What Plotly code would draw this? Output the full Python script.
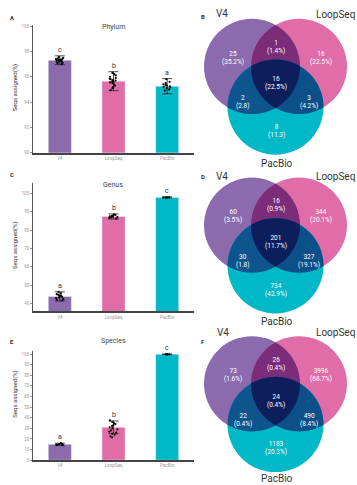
import numpy as np
import plotly.graph_objects as go

W, H = 357, 485

categories = ["V4", "LoopSeq", "PacBio"]
bar_colors = ["#8B6BAE", "#E06DA8", "#00B8C6"]

# Panel A - Phylum
phylum_mean = [97.3, 95.65, 95.25]
phylum_err = [0.35, 0.75, 0.6]
phylum_letters = ["c", "b", "a"]
phylum_pts_v4 = [97.55, 97.5, 97.45, 97.4, 97.4, 97.35, 97.3, 97.3, 97.25, 97.2, 97.2, 97.15, 97.1, 97.05, 97.0, 97.35, 97.28]
phylum_pts_loop = [96.3, 96.2, 96.1, 96.0, 95.9, 95.85, 95.8, 95.75, 95.7, 95.65, 95.6, 95.55, 95.5, 95.4, 95.3, 95.2, 95.1, 94.95]
phylum_pts_pac = [95.8, 95.6, 95.5, 95.4, 95.35, 95.3, 95.25, 95.2, 95.15, 95.1, 95.0, 94.9]

# Panel C - Genus
genus_mean = [43.8, 87.4, 97.8]
genus_err = [2.5, 1.4, 0.3]
genus_letters = ["a", "b", "c"]
genus_pts_v4 = [46.2, 45.5, 45.0, 44.6, 44.2, 43.9, 43.5, 43.2, 42.8, 42.3, 41.8, 41.5]
genus_pts_loop = [88.6, 88.2, 88.0, 87.7, 87.5, 87.3, 87.1, 86.9, 86.6, 86.3]
genus_pts_pac = [97.9, 97.8, 97.8, 97.7, 97.7]

# Panel E - Species
species_mean = [15.0, 31.0, 99.8]
species_err = [1.0, 6.0, 0.3]
species_letters = ["a", "b", "c"]
species_pts_v4 = [16.0, 15.5, 15.2, 15.0, 14.8, 14.5, 14.2, 14.0]
species_pts_loop = [37.5, 36, 35, 34, 33, 32, 31, 30, 29, 28, 27, 26, 25, 24, 22.5, 21.5]
species_pts_pac = [99.9, 99.8, 99.8, 99.7]

bar_titles = ["Phylum", "Genus", "Species"]

# Venn data (order: V4 only, LoopSeq only, PacBio only, V4&Loop, V4&Pac, Loop&Pac, all)
venn_B_counts = ["25", "16", "8", "1", "2", "3", "16"]
venn_B_pcts = ["(35.2%)", "(22.5%)", "(11.3)", "(1.4%)", "(2.8)", "(4.2%)", "(22.5%)"]
venn_D_counts = ["60", "344", "734", "16", "30", "327", "201"]
venn_D_pcts = ["(3.5%)", "(20.1%)", "(42.9%)", "(0.9%)", "(1.8)", "(19.1%)", "(11.7%)"]
venn_F_counts = ["73", "3996", "1183", "26", "22", "490", "24"]
venn_F_pcts = ["(1.6%)", "(68.7%)", "(20.3%)", "(0.4%)", "(0.4%)", "(8.4%)", "(0.4%)"]
venn_sets = ["V4", "LoopSeq", "PacBio"]

fig = go.Figure()

def py2frac(p):
    return 1 - p / H

bar_panels = [
    dict(mean=phylum_mean, err=phylum_err, letters=phylum_letters,
         pts=[phylum_pts_v4, phylum_pts_loop, phylum_pts_pac],
         top=24, bottom=153, rng=[90, 100.1], dtick=2),
    dict(mean=genus_mean, err=genus_err, letters=genus_letters,
         pts=[genus_pts_v4, genus_pts_loop, genus_pts_pac],
         top=184, bottom=313, rng=[35.6, 105.4], dtick=10),
    dict(mean=species_mean, err=species_err, letters=species_letters,
         pts=[species_pts_v4, species_pts_loop, species_pts_pac],
         top=353, bottom=463, rng=[0, 102.8], dtick=10),
]

annotations = []
for k, p in enumerate(bar_panels):
    ax = "" if k == 0 else str(k + 1)
    xr, yr = "x" + ax, "y" + ax
    fig.add_trace(go.Bar(
        x=categories, y=p["mean"], marker_color=bar_colors, width=0.43,
        error_y=dict(type="data", array=p["err"], color="#222", thickness=0.8, width=5),
        xaxis=xr, yaxis=yr, showlegend=False, hoverinfo="skip"))
    xs, ys = [], []
    for c, vals in zip(categories, p["pts"]):
        xs += [c] * len(vals)
        ys += vals
    fig.add_trace(go.Box(
        x=xs, y=ys, boxpoints="all", jitter=0.55, pointpos=0, width=0.3,
        fillcolor="rgba(0,0,0,0)", line=dict(color="rgba(0,0,0,0)", width=0),
        marker=dict(color="black", size=2.2), xaxis=xr, yaxis=yr,
        showlegend=False, hoverinfo="skip"))
    dom_y = [py2frac(p["bottom"]), py2frac(p["top"])]
    fig.update_layout(**{
        "xaxis" + ax: dict(domain=[33 / W, 194 / W], showline=True, linecolor="#444",
                           linewidth=1.8, ticks="", showgrid=False, zeroline=False,
                           tickfont=dict(size=4.5, color="#999", family="Roboto"),
                           anchor=yr, fixedrange=True),
        "yaxis" + ax: dict(domain=dom_y, range=p["rng"], dtick=p["dtick"], showline=True,
                           linecolor="#555", linewidth=0.8, ticks="outside", ticklen=2,
                           tickcolor="#999", tickwidth=0.6, showgrid=False, zeroline=False,
                           tickfont=dict(size=4.5, color="#999", family="Roboto"),
                           anchor=xr, fixedrange=True),
    })
    for c, m, e, l in zip(categories, p["mean"], p["err"], p["letters"]):
        annotations.append(dict(x=c, y=m + e, xref=xr, yref=yr, text=l, showarrow=False,
                                yanchor="bottom", yshift=0,
                                font=dict(size=7, color="#333", family="Roboto")))

# overlay pixel axis
fig.update_layout(
    xaxis4=dict(domain=[0, 1], range=[0, W], visible=False, fixedrange=True, anchor="y4"),
    yaxis4=dict(domain=[0, 1], range=[H, 0], visible=False, fixedrange=True, anchor="x4"),
)
fig.add_trace(go.Scatter(x=[0], y=[0], xaxis="x4", yaxis="y4", mode="markers",
                         marker=dict(opacity=0), showlegend=False, hoverinfo="skip"))

# Bar titles, y titles, panel letters
title_pos = [(113, 26), (113, 186), (113, 343)]
ytitle_pos = [(15, 88), (15, 247), (15, 397)]
for t, (tx, ty), (yx, yy) in zip(bar_titles, title_pos, ytitle_pos):
    annotations.append(dict(x=tx, y=ty, xref="x4", yref="y4", text=t, showarrow=False,
                            font=dict(size=7, color="#444", family="Roboto")))
    annotations.append(dict(x=yx, y=yy, xref="x4", yref="y4", text="Seqs assigned(%)",
                            textangle=-90, showarrow=False,
                            font=dict(size=6, color="#333", family="Roboto")))
letters_pos = [("A", 12, 17), ("B", 203, 16), ("C", 12, 175), ("D", 203, 177),
               ("E", 12, 343), ("F", 203, 343)]
for t, lx, ly in letters_pos:
    annotations.append(dict(x=lx, y=ly, xref="x4", yref="y4", text="<b>" + t + "</b>",
                            showarrow=False, font=dict(size=6, color="#333", family="Roboto")))

# Venn diagrams
R = 48
base_centers = [(252, 66), (299, 66), (275.5, 107)]
circle_colors = ["#8B6BAE", "#E06DA8", "#00B8C6"]
pair_colors = {(0, 1): "#7B2D79", (0, 2): "#0E558D", (1, 2): "#0B5088"}
center_color = "#0C1F5C"

def region_path(centers, idx):
    th = np.linspace(0, 2 * np.pi, 1441)
    pts = []
    for i in idx:
        cx, cy = centers[i]
        x = cx + R * np.cos(th)
        y = cy + R * np.sin(th)
        mask = np.ones_like(x, dtype=bool)
        for j in idx:
            if j == i:
                continue
            ox, oy = centers[j]
            mask &= (x - ox) ** 2 + (y - oy) ** 2 <= R ** 2 + 1e-6
        pts.append(np.column_stack([x[mask], y[mask]]))
    P = np.vstack(pts)
    c = P.mean(axis=0)
    order = np.argsort(np.arctan2(P[:, 1] - c[1], P[:, 0] - c[0]))
    P = P[order]
    return "M " + " L ".join(f"{a:.2f},{b:.2f}" for a, b in P) + " Z"

text_offsets = [(233, 57), (321, 57), (276, 131), (276, 46), (243, 102), (309, 102), (276, 83)]
venns = [
    (0, venn_B_counts, venn_B_pcts, [(222, 13), (356, 14), (277, 164)]),
    (160, venn_D_counts, venn_D_pcts, [(222, 177), (356, 177), (277, 323)]),
    (320, venn_F_counts, venn_F_pcts, [(223, 334), (356, 334), (277, 481)]),
]
shapes = []
for off, counts, pcts, lab_pos in venns:
    centers = [(cx, cy + off) for cx, cy in base_centers]
    for (cx, cy), col in zip(centers, circle_colors):
        shapes.append(dict(type="circle", xref="x4", yref="y4", x0=cx - R, x1=cx + R,
                           y0=cy - R, y1=cy + R, fillcolor=col, line=dict(width=0)))
    for (i, j), col in pair_colors.items():
        shapes.append(dict(type="path", xref="x4", yref="y4", path=region_path(centers, [i, j]),
                           fillcolor=col, line=dict(width=0)))
    shapes.append(dict(type="path", xref="x4", yref="y4", path=region_path(centers, [0, 1, 2]),
                       fillcolor=center_color, line=dict(width=0)))
    for (tx, ty), cnt, pc in zip(text_offsets, counts, pcts):
        annotations.append(dict(x=tx, y=ty + off, xref="x4", yref="y4",
                                text=cnt + "<br>" + pc, showarrow=False,
                                font=dict(size=6.5, color="white", family="Roboto")))
    for name, (lx, ly) in zip(venn_sets, lab_pos):
        anchor = "right" if name == "LoopSeq" else "center"
        annotations.append(dict(x=lx, y=ly, xref="x4", yref="y4", text=name, showarrow=False,
                                xanchor=anchor, borderpad=0,
                                font=dict(size=10, color="#333", family="Roboto")))

fig.update_layout(
    width=W, height=H, margin=dict(l=0, r=0, t=0, b=0),
    paper_bgcolor="white", plot_bgcolor="rgba(0,0,0,0)",
    shapes=shapes, annotations=annotations, showlegend=False,
    barmode="group", boxmode="overlay",
)
fig.write_html("out.html", config={"displayModeBar": False},
               post_script="document.body.style.margin='0';document.body.style.overflow='hidden';")
